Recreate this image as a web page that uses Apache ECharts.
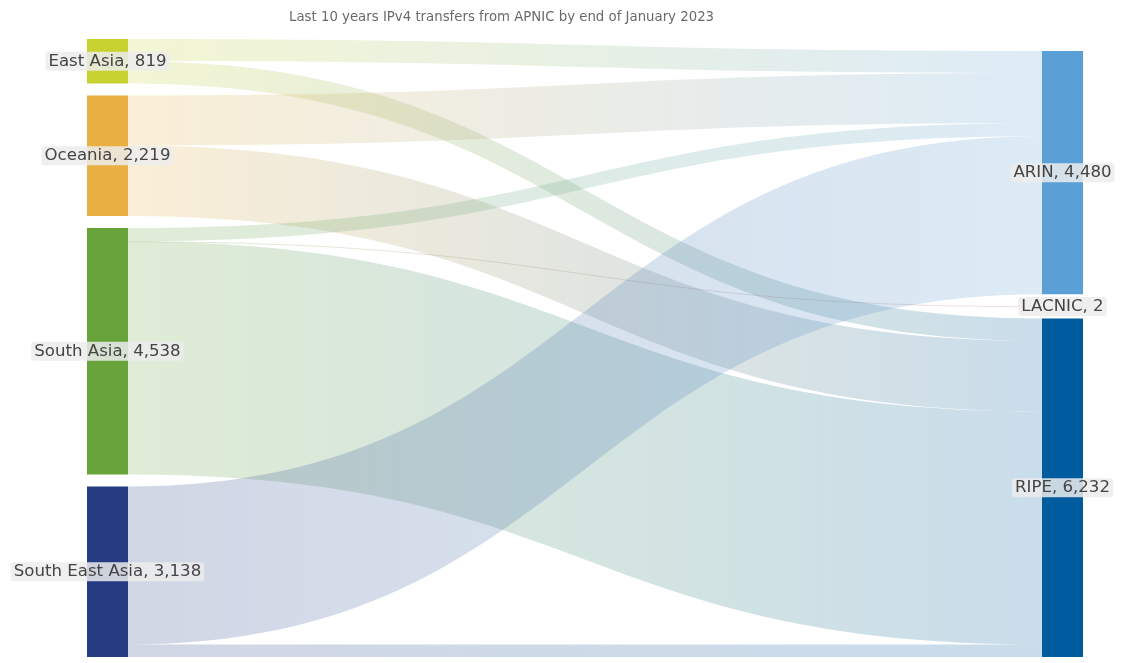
<!DOCTYPE html>
<html>
<head>
<meta charset="utf-8">
<style>
  html, body { margin: 0; padding: 0; background: #ffffff; }
  #chart { width: 1146px; height: 663px; }
</style>
<script src="https://cdn.jsdelivr.net/npm/echarts@6/dist/echarts.min.js"></script>
</head>
<body>
<div id="chart"></div>
<script>
// ---- data ----
const titleText = 'Last 10 years IPv4 transfers from APNIC by end of January 2023';
const sourceNames = ['East Asia', 'Oceania', 'South Asia', 'South East Asia'];
const targetNames = ['ARIN', 'LACNIC', 'RIPE'];
// link values from each source (same order as sourceNames) to each target
const toARIN   = [405, 920, 245, 2910];
const toLACNIC = [0, 0, 2, 0];
const toRIPE   = [414, 1299, 4291, 228];

// ---- styles ----
const nodeColors = {
  'East Asia': '#c8d22e',
  'Oceania': '#e8b040',
  'South Asia': '#67a33a',
  'South East Asia': '#253c82',
  'ARIN': '#5aa0d6',
  'LACNIC': '#b0507a',
  'RIPE': '#005c9e'
};

const targetValues = { ARIN: toARIN, LACNIC: toLACNIC, RIPE: toRIPE };

const links = [];
sourceNames.forEach((s, i) => {
  targetNames.forEach(t => {
    const v = targetValues[t][i];
    if (v > 0) links.push({ source: s, target: t, value: v });
  });
});

function total(name) {
  let sum = 0;
  links.forEach(l => { if (l.source === name || l.target === name) sum += l.value; });
  return sum;
}

const labelStyle = {
  show: true,
  position: 'inside',
  color: '#444444',
  fontFamily: 'DejaVu Sans',
  fontSize: 16.6,
  lineHeight: 17,
  backgroundColor: 'rgba(236,236,236,0.85)',
  borderRadius: 3,
  padding: [1, 3, 1, 3],
  formatter: p => p.name + ', ' + Number(p.value).toLocaleString('en-US')
};

const nodes = [];
sourceNames.forEach(n => nodes.push({
  name: n, value: total(n), depth: 0,
  itemStyle: { color: nodeColors[n] }, label: labelStyle
}));
// spacer keeps the right column bottom-aligned like the reference
nodes.push({
  name: '\u200b', value: 0, depth: 1,
  itemStyle: { color: 'rgba(0,0,0,0)' }, label: { show: false }
});
targetNames.forEach(n => nodes.push({
  name: n, value: total(n), depth: 1,
  itemStyle: { color: nodeColors[n] }, label: labelStyle
}));

const chart = echarts.init(document.getElementById('chart'), null, { renderer: 'canvas' });
chart.setOption({
  animation: false,
  backgroundColor: '#ffffff',
  title: {
    text: titleText,
    left: 284,
    top: 6,
    textStyle: { fontFamily: 'DejaVu Sans', fontSize: 13.3, fontWeight: 'normal', color: '#6a6a6a' }
  },
  series: [{
    type: 'sankey',
    left: 87,
    right: 63,
    top: 39,
    bottom: 6,
    nodeWidth: 41,
    nodeGap: 12,
    layoutIterations: 0,
    nodeAlign: 'justify',
    draggable: false,
    emphasis: { disabled: true },
    itemStyle: { borderWidth: 0 },
    lineStyle: { color: 'gradient', opacity: 0.21, curveness: 0.5 },
    data: nodes,
    links: links
  }]
});
</script>
</body>
</html>
